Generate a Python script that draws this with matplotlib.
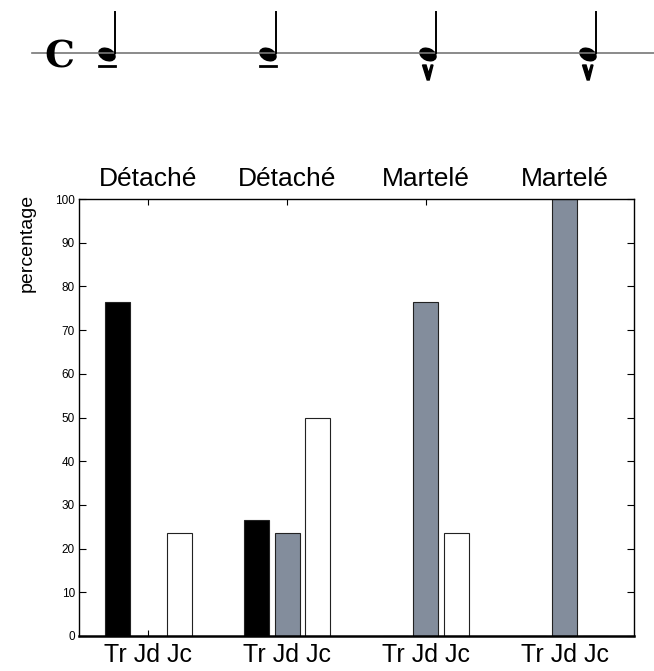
import matplotlib
matplotlib.use("Agg")
import matplotlib.pyplot as plt
import numpy as np
from matplotlib.patches import Ellipse, Polygon

# ---- data ----
group_titles = ["Détaché", "Détaché", "Martelé", "Martelé"]
tick_labels = ["Tr Jd Jc", "Tr Jd Jc", "Tr Jd Jc", "Tr Jd Jc"]
series_names = ["Tr", "Jd", "Jc"]
tr_values = [76.5, 26.5, 0, 0]
jd_values = [0, 23.5, 76.5, 100]
jc_values = [23.5, 50, 23.5, 0]
yticks = list(range(0, 101, 10))
note_articulations = ["tenuto", "tenuto", "accent", "accent"]

W, H = 654, 671
fig = plt.figure(figsize=(W / 100, H / 100), dpi=100)
plt.rcParams["font.family"] = ["Liberation Sans", "DejaVu Sans"]

# ---- bar chart ----
ax = fig.add_axes([79 / W, 1 - 636 / H, (634 - 79) / W, (636 - 199) / H])
groups = np.arange(1, len(group_titles) + 1)
spacing = 0.222
bw = 0.18
colors = ["black", "#838d9c", "white"]
for i, vals in enumerate([tr_values, jd_values, jc_values]):
    ax.bar(groups + (i - 1) * spacing, vals, width=bw, color=colors[i],
           edgecolor="#222222", linewidth=0.8, zorder=2)

ax.set_xlim(0.5, 4.5)
ax.set_ylim(0, 100)
ax.set_yticks(yticks)
ax.set_xticks(groups)
ax.set_xticklabels(tick_labels, fontsize=18)
ax.tick_params(axis="x", direction="in", top=True, length=4, width=0.8, pad=5)
ax.tick_params(axis="y", direction="in", right=True, length=5, width=0.8,
               labelsize=8.5, pad=3)
for s in ["left", "right", "top"]:
    ax.spines[s].set_linewidth(1.0)
ax.spines["bottom"].set_linewidth(1.8)

for g, t in zip(groups, group_titles):
    ax.annotate(t, xy=(g, 100), xycoords="data", xytext=(0, 9.5),
                textcoords="offset points", ha="center", va="baseline",
                fontsize=19)

fig.text(27 / W, 1 - 243 / H, "percentage", rotation=90, ha="center",
         va="center", fontsize=14)

# ---- music staff on top ----
ov = fig.add_axes([0, 0, 1, 1])
ov.set_xlim(0, W)
ov.set_ylim(H, 0)
ov.axis("off")
ov.patch.set_alpha(0)
staff_y = 53
ov.plot([32, W], [staff_y, staff_y], color="#777777", lw=1.2)
ov.text(59, staff_y + 4, "C", fontsize=27, fontweight="bold",
        family="DejaVu Serif", ha="center", va="center")
note_x = [107, 268, 428, 588]
for x, art in zip(note_x, note_articulations):
    ov.add_patch(Ellipse((x, staff_y + 1.5), 17, 11.5, angle=25, color="black"))
    ov.plot([x + 8, x + 8], [staff_y, 12], color="black", lw=1.4)
    if art == "tenuto":
        ov.plot([x - 8, x + 8], [66, 66], color="black", lw=2)
    else:
        ov.add_patch(Polygon([[x - 5.5, 65], [x - 2, 65], [x + 0.6, 73.5],
                              [x + 3.2, 65], [x + 5, 65], [x + 1.2, 80],
                              [x - 0.8, 80]], closed=True, color="black"))

fig.savefig("out.png", dpi=100)
